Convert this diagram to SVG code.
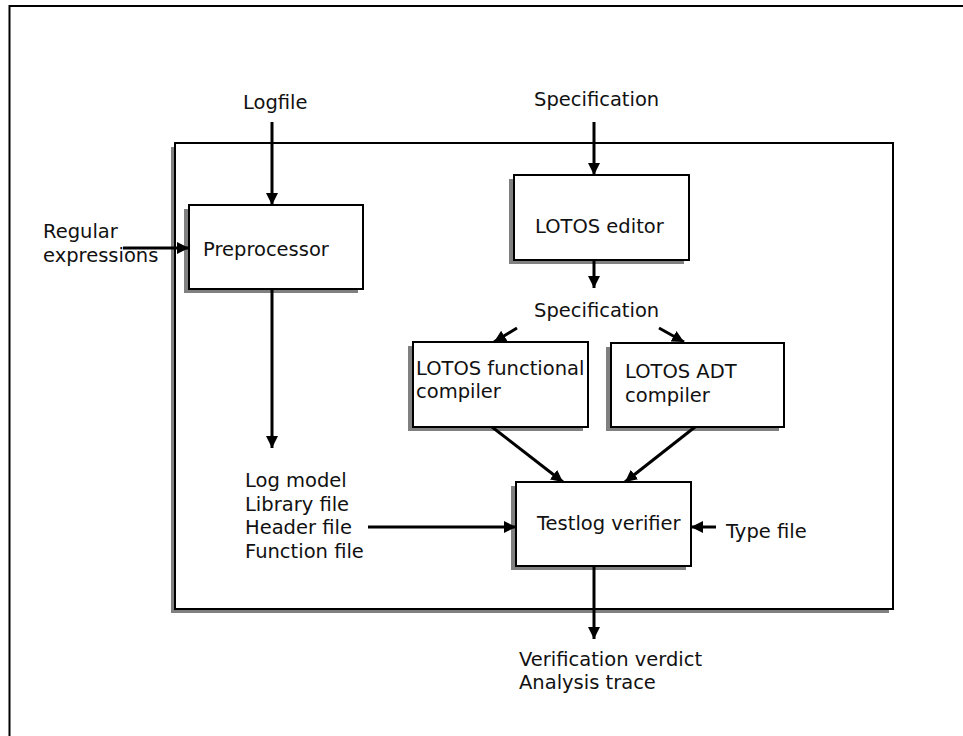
<svg xmlns="http://www.w3.org/2000/svg" width="963" height="736" viewBox="0 0 963 736">
<style>
  text { font-family: "DejaVu Sans", Verdana, sans-serif; font-size: 19.5px; fill: #111; }
  .box { fill: #fff; stroke: #000; stroke-width: 2; }
  .shadow { fill: #808080; stroke: none; }
  .conn { stroke: #000; stroke-width: 3; fill: none; marker-end: url(#arrow); }
</style>
<defs>
  <marker id="arrow" markerUnits="userSpaceOnUse" markerWidth="13" markerHeight="13" refX="12" refY="6.5" orient="auto">
    <path d="M0,0.5 L12,6.5 L0,12.5 z" fill="#000"/>
  </marker>
</defs>
<rect x="0" y="0" width="963" height="736" fill="#fff"/>
<rect x="9.5" y="6" width="1000" height="800" fill="none" stroke="#000" stroke-width="2"/>

<g id="system">
  <rect class="shadow" x="171" y="147" width="718" height="466"/>
  <rect class="box" x="175" y="143" width="718" height="466"/>
</g>

<g id="logfile"><text x="243" y="109">Logfile</text></g>
<g id="spec-in"><text x="534" y="106">Specification</text></g>
<g id="regex"><text x="43" y="238">Regular</text><text x="43" y="262">expressions</text></g>

<g id="preprocessor">
  <rect class="shadow" x="184" y="209" width="174" height="84"/>
  <rect class="box" x="189" y="205" width="174" height="84"/>
  <text x="203" y="256">Preprocessor</text>
</g>

<g id="lotos-editor">
  <rect class="shadow" x="509" y="179" width="175" height="85"/>
  <rect class="box" x="514" y="175" width="175" height="85"/>
  <text x="535" y="233">LOTOS editor</text>
</g>

<g id="spec-mid"><text x="534" y="317">Specification</text></g>

<g id="lotos-functional">
  <rect class="shadow" x="408" y="346" width="175" height="85"/>
  <rect class="box" x="413" y="342" width="175" height="85"/>
  <text x="416" y="375">LOTOS functional</text>
  <text x="416" y="398">compiler</text>
</g>

<g id="lotos-adt">
  <rect class="shadow" x="606" y="347" width="173" height="84"/>
  <rect class="box" x="611" y="343" width="173" height="84"/>
  <text x="625" y="378">LOTOS ADT</text>
  <text x="625" y="402">compiler</text>
</g>

<g id="log-model">
  <text x="245" y="487">Log model</text>
  <text x="245" y="510.5">Library file</text>
  <text x="245" y="534">Header file</text>
  <text x="245" y="557.5">Function file</text>
</g>

<g id="testlog-verifier">
  <rect class="shadow" x="511" y="486" width="175" height="84"/>
  <rect class="box" x="516" y="482" width="175" height="84"/>
  <text x="537" y="530">Testlog verifier</text>
</g>

<g id="type-file"><text x="726" y="538">Type file</text></g>

<g id="output">
  <text x="519" y="666">Verification verdict</text>
  <text x="519" y="689">Analysis trace</text>
</g>

<g id="connectors">
  <line class="conn" x1="272" y1="122" x2="272" y2="205"/>
  <line class="conn" x1="594" y1="122" x2="594" y2="175"/>
  <line class="conn" x1="123" y1="248" x2="189" y2="248"/>
  <line class="conn" x1="272" y1="289" x2="272" y2="448"/>
  <line class="conn" x1="594" y1="260" x2="594" y2="288"/>
  <line class="conn" x1="517" y1="328" x2="494" y2="342"/>
  <line class="conn" x1="659" y1="328" x2="684" y2="342"/>
  <line class="conn" x1="492" y1="427" x2="563" y2="482"/>
  <line class="conn" x1="695" y1="427" x2="625" y2="482"/>
  <line class="conn" x1="368" y1="527" x2="516" y2="527"/>
  <line class="conn" x1="716" y1="527" x2="691" y2="527"/>
  <line class="conn" x1="594" y1="566" x2="594" y2="639"/>
</g>
</svg>
